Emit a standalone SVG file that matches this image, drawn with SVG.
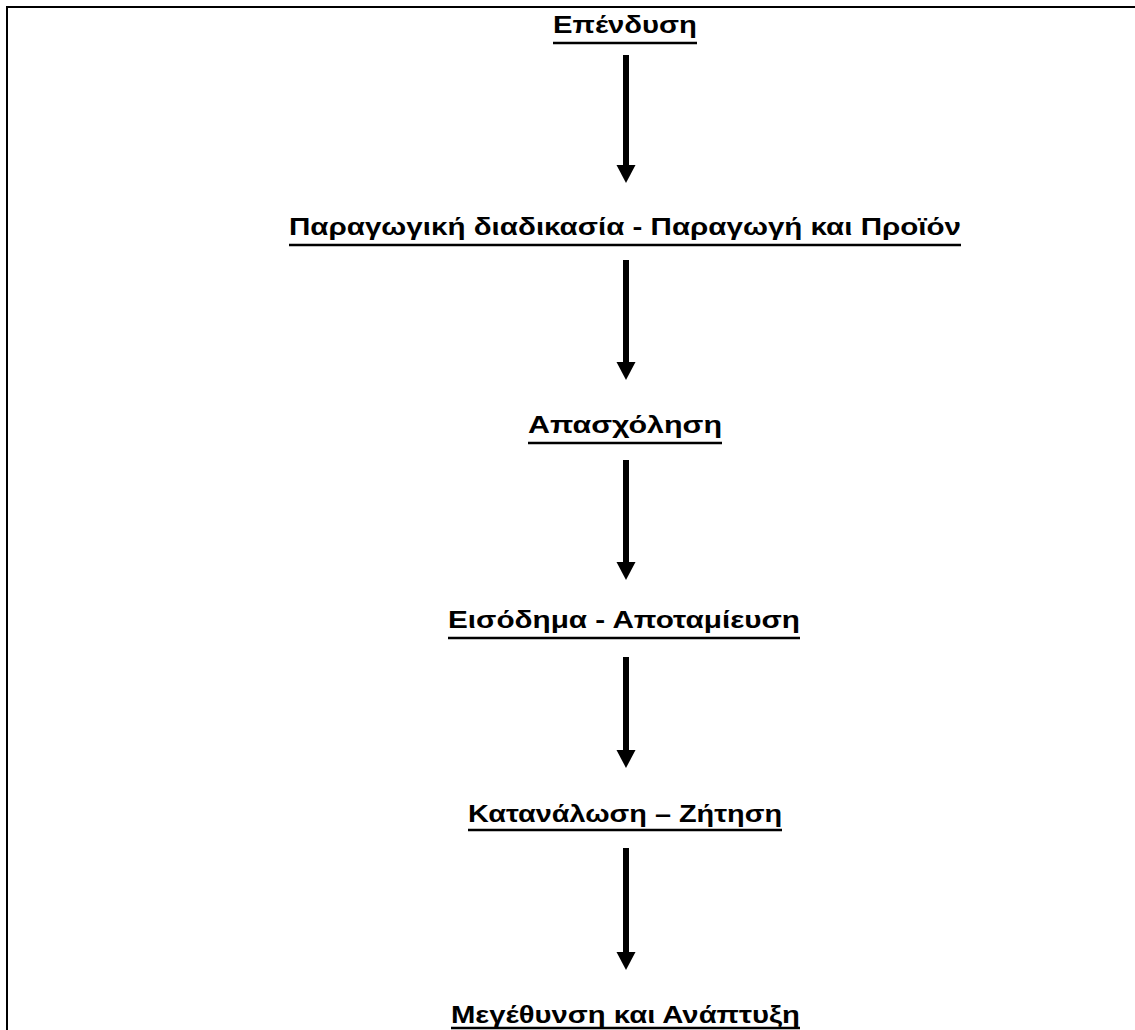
<svg xmlns="http://www.w3.org/2000/svg" width="1135" height="1030" viewBox="0 0 1135 1030">
<style>
.t{font-family:"Liberation Sans",Arial,sans-serif;font-weight:bold;font-size:23px;fill:#000;}
.u{stroke:#000;stroke-width:2.5;}
.a{stroke:#000;stroke-width:6;fill:none;}
</style>
<defs>
<marker id="ah" markerUnits="userSpaceOnUse" markerWidth="19" markerHeight="20" refX="0" refY="9.5" orient="auto" viewBox="0 0 19 19">
<path d="M0,0 L18,9.5 L0,19 Z" fill="#000"/>
</marker>
</defs>
<rect width="1135" height="1030" fill="#fff"/>
<path d="M7,1030 V7 H1135" fill="none" stroke="#000" stroke-width="2"/>
<g id="connectors">
<line class="a" x1="626" y1="55" x2="626" y2="165" marker-end="url(#ah)"/>
<line class="a" x1="626" y1="260" x2="626" y2="362" marker-end="url(#ah)"/>
<line class="a" x1="626" y1="460" x2="626" y2="562" marker-end="url(#ah)"/>
<line class="a" x1="626" y1="657" x2="626" y2="750" marker-end="url(#ah)"/>
<line class="a" x1="626" y1="848" x2="626" y2="952" marker-end="url(#ah)"/>
</g>
<g id="n1"><text class="t" x="553" y="33" textLength="144" lengthAdjust="spacingAndGlyphs">Επένδυση</text><line class="u" x1="553" y1="43" x2="697" y2="43"/></g>
<g id="n2"><text class="t" x="289" y="235" textLength="672" lengthAdjust="spacingAndGlyphs">Παραγωγική διαδικασία - Παραγωγή και Προϊόν</text><line class="u" x1="289" y1="245" x2="961" y2="245"/></g>
<g id="n3"><text class="t" x="528" y="433" textLength="194" lengthAdjust="spacingAndGlyphs">Απασχόληση</text><line class="u" x1="528" y1="443" x2="722" y2="443"/></g>
<g id="n4"><text class="t" x="448" y="628" textLength="352" lengthAdjust="spacingAndGlyphs">Εισόδημα - Αποταμίευση</text><line class="u" x1="448" y1="638" x2="800" y2="638"/></g>
<g id="n5"><text class="t" x="468" y="822" textLength="314" lengthAdjust="spacingAndGlyphs">Κατανάλωση – Ζήτηση</text><line class="u" x1="468" y1="830" x2="782" y2="830"/></g>
<g id="n6"><text class="t" x="451" y="1023" textLength="349" lengthAdjust="spacingAndGlyphs">Μεγέθυνση και Ανάπτυξη</text><line class="u" x1="451" y1="1028" x2="800" y2="1028"/></g>
</svg>
